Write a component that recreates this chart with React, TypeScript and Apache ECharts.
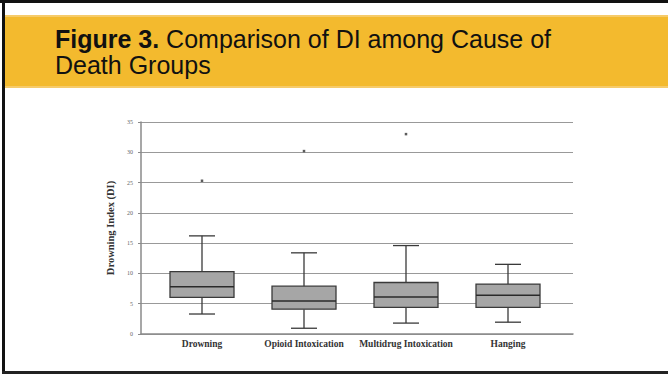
import React, { useEffect, useRef } from "react";
import * as echarts from "echarts";

const categories = ["Drowning", "Opioid Intoxication", "Multidrug Intoxication", "Hanging"];
// [low whisker, Q1, median, Q3, high whisker]
const boxValues = [
  [3.3, 6.05, 7.8, 10.3, 16.2],
  [0.95, 4.1, 5.45, 7.9, 13.4],
  [1.8, 4.4, 6.1, 8.5, 14.6],
  [1.95, 4.4, 6.4, 8.25, 11.5],
];
const outliers = [
  [0, 25.3],
  [1, 30.2],
  [2, 33.0],
];
const yTicks = { min: 0, max: 35, interval: 5 };
const yAxisName = "Drowning Index (DI)";
const titleBold = "Figure 3.";
const titleLine1 = " Comparison of DI among Cause of";
const titleLine2 = "Death Groups";

export default function App() {
  const ref = useRef<HTMLDivElement>(null);
  useEffect(() => {
    if (!ref.current) return;
    const chart = echarts.init(ref.current, null, { renderer: "svg" });
    const boxData = boxValues.map((v, i) => [i, ...v]);
    chart.setOption({
      animation: false,
      backgroundColor: "#ffffff",
      graphic: [
        { type: "rect", shape: { x: 4, y: 15, width: 664, height: 73 }, style: { fill: "#F3BA2E" } },
        { type: "rect", shape: { x: 4, y: 15, width: 664, height: 2 }, style: { fill: "#F6CB6A" } },
        { type: "rect", shape: { x: 4, y: 86, width: 664, height: 2 }, style: { fill: "#F6CB6A" } },
        { type: "rect", shape: { x: 0, y: 0, width: 668, height: 3 }, style: { fill: "#111" } },
        { type: "rect", shape: { x: 2, y: 0, width: 3, height: 374 }, style: { fill: "#111" } },
        { type: "rect", shape: { x: 2, y: 371, width: 666, height: 3 }, style: { fill: "#222" } },
        {
          type: "text",
          x: 55,
          y: 26,
          style: {
            text: "{b|" + titleBold + "}{n|" + titleLine1 + "}\n{n|" + titleLine2 + "}",
            rich: {
              b: { fontFamily: "Liberation Sans, Arial", fontWeight: "bold", fontSize: 25, lineHeight: 26, fill: "#111" },
              n: { fontFamily: "Liberation Sans, Arial", fontSize: 25, lineHeight: 26, fill: "#111" },
            },
          },
        },
      ],
      grid: [
        { left: 141, right: 95, top: 122, bottom: 42 },
        { left: 151, right: 109, top: 122, bottom: 42 },
      ],
      xAxis: [
        {
          gridIndex: 0,
          type: "value",
          min: 0,
          max: 1,
          axisLine: { show: true, onZero: false, lineStyle: { color: "#8a8a8a", width: 1.5 } },
          axisTick: { show: false },
          axisLabel: { show: false },
          splitLine: { show: false },
        },
        {
          gridIndex: 1,
          type: "category",
          data: categories,
          axisLine: { show: false },
          axisTick: { show: false },
          axisLabel: {
            interval: 0,
            color: "#333",
            fontFamily: "Liberation Serif, serif",
            fontWeight: "bold",
            fontSize: 9.5,
            margin: 5,
          },
        },
      ],
      yAxis: [
        {
          gridIndex: 0,
          type: "value",
          ...yTicks,
          name: yAxisName,
          nameLocation: "middle",
          nameGap: 19,
          nameTextStyle: {
            color: "#333",
            fontFamily: "Liberation Serif, serif",
            fontWeight: "bold",
            fontSize: 10.5,
          },
          axisLine: { show: true, lineStyle: { color: "#8a8a8a", width: 1.5 } },
          axisTick: { show: true, length: 3, lineStyle: { color: "#8a8a8a" } },
          axisLabel: { color: "#666", fontFamily: "Liberation Serif, serif", fontSize: 6, margin: 8 },
          splitLine: { show: true, lineStyle: { color: "#999999", width: 1.2 } },
        },
        {
          gridIndex: 1,
          type: "value",
          ...yTicks,
          show: false,
          splitLine: { show: false },
        },
      ],
      series: [
        {
          type: "custom",
          xAxisIndex: 1,
          yAxisIndex: 1,
          data: boxData,
          encode: { x: 0, y: [1, 2, 3, 4, 5] },
          renderItem: (params: any, api: any) => {
            const i = api.value(0);
            const lo = api.coord([i, api.value(1)]);
            const q1 = api.coord([i, api.value(2)]);
            const md = api.coord([i, api.value(3)]);
            const q3 = api.coord([i, api.value(4)]);
            const hi = api.coord([i, api.value(5)]);
            const x = lo[0];
            const bw = 64;
            const cw = 26;
            const stroke = { stroke: "#3a3a3a", lineWidth: 1.3 };
            return {
              type: "group",
              children: [
                { type: "line", shape: { x1: x, y1: hi[1], x2: x, y2: q3[1] }, style: stroke },
                { type: "line", shape: { x1: x, y1: q1[1], x2: x, y2: lo[1] }, style: stroke },
                { type: "line", shape: { x1: x - cw / 2, y1: hi[1], x2: x + cw / 2, y2: hi[1] }, style: stroke },
                { type: "line", shape: { x1: x - cw / 2, y1: lo[1], x2: x + cw / 2, y2: lo[1] }, style: stroke },
                {
                  type: "rect",
                  shape: { x: x - bw / 2, y: q3[1], width: bw, height: q1[1] - q3[1] },
                  style: { fill: "#a6a6a6", stroke: "#3a3a3a", lineWidth: 1.3 },
                },
                { type: "line", shape: { x1: x - bw / 2, y1: md[1], x2: x + bw / 2, y2: md[1] }, style: { stroke: "#2a2a2a", lineWidth: 1.6 } },
              ],
            };
          },
        },
        {
          type: "scatter",
          xAxisIndex: 1,
          yAxisIndex: 1,
          data: outliers,
          symbol: "rect",
          symbolSize: 2.5,
          itemStyle: { color: "#333" },
        },
      ],
    });
    return () => chart.dispose();
  }, []);
  return <div ref={ref} style={{ position: "absolute", left: 0, top: 0, width: 668, height: 376 }} />;
}
